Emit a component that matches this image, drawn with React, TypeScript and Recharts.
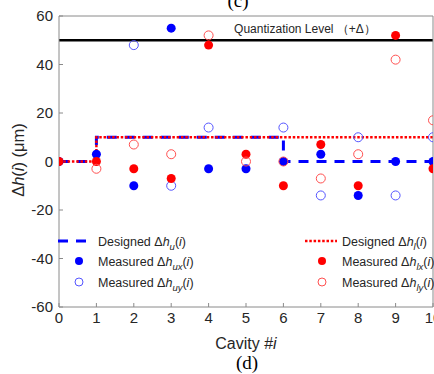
import React from "react";
import { ComposedChart, Legend, Line, ReferenceLine, Scatter, XAxis, YAxis } from "recharts";

const cavities = [0, 1, 2, 3, 4, 5, 6, 7, 8, 9, 10];
const designedU = [0, 10, 10, 10, 10, 10, 0, 0, 0, 0, 0];
const designedL = [0, 10, 10, 10, 10, 10, 10, 10, 10, 10, 10];
const measuredUx = [0, 3, -10, 55, -3, -3, 0, 3, -14, 0, 0];
const measuredUy = [null, null, 48, -10, 14, null, 14, -14, 10, -14, 10];
const measuredLx = [0, 0, -3, -7, 48, 3, -10, 7, -10, 52, -3];
const measuredLy = [null, -3, 7, 3, 52, 0, 0, -7, 3, 42, 17];
const xTicks = [0, 1, 2, 3, 4, 5, 6, 7, 8, 9, 10];
const yTicks = [-60, -40, -20, 0, 20, 40, 60];
const quantizationLevel = 50;

const BLUE = "#0000ff";
const RED = "#ff0000";
const BLUE_OPEN = "#5555ff";
const RED_OPEN = "#ff5050";
const AXIS = "#8a8a8a";
const TEXT = "#262626";
const SANS = "'Liberation Sans', Arial, sans-serif";

const toPoints = (vals: (number | null)[]) =>
  cavities.map((x, i) => ({ x, y: vals[i] })).filter((p) => p.y !== null);

// legend look per series name
const legendInfo: Record<string, { kind: string; color: string; sub: string; word: string; slot: [number, number] }> = {
  du: { kind: "dash", color: BLUE, sub: "u", word: "Designed", slot: [58, 241] },
  ux: { kind: "filled", color: BLUE, sub: "ux", word: "Measured", slot: [58, 261] },
  uy: { kind: "open", color: BLUE_OPEN, sub: "uy", word: "Measured", slot: [58, 282] },
  dl: { kind: "dot", color: RED, sub: "l", word: "Designed", slot: [304, 241] },
  lx: { kind: "filled", color: RED, sub: "lx", word: "Measured", slot: [304, 261] },
  ly: { kind: "open", color: RED_OPEN, sub: "ly", word: "Measured", slot: [304, 282] },
};

function LegendBox({ payload }: any) {
  return (
    <svg width={434} height={374} style={{ position: "absolute", left: 0, top: 0 }}>
      {(payload || []).map((item: any) => {
        const info = legendInfo[item.value];
        if (!info) return null;
        const [x, y] = info.slot;
        const tx = x < 200 ? 98 : 342;
        let symbol;
        if (info.kind === "dash") {
          symbol = <line x1={x} x2={x + 28} y1={y} y2={y} stroke={info.color} strokeWidth={3} strokeDasharray="10 8" />;
        } else if (info.kind === "dot") {
          symbol = <line x1={x + 1} x2={x + 33} y1={y} y2={y} stroke={info.color} strokeWidth={2.5} strokeDasharray="2.5 1.8" />;
        } else if (info.kind === "filled") {
          symbol = <circle cx={x + (x < 200 ? 21 : 18)} cy={y} r={4} fill={info.color} />;
        } else {
          symbol = <circle cx={x + (x < 200 ? 21 : 18)} cy={y} r={4} fill="none" stroke={info.color} strokeWidth={1} />;
        }
        return (
          <g key={item.value}>
            {symbol}
            <text x={tx} y={y + 4.5} fontSize={12.5} fontFamily={SANS} fill={TEXT}>
              {info.word} Δ<tspan fontStyle="italic">h</tspan>
              <tspan fontStyle="italic" fontSize={9.5} dy={4}>{info.sub}</tspan>
              <tspan dy={-4}>(</tspan>
              <tspan fontStyle="italic">i</tspan>)
            </text>
          </g>
        );
      })}
    </svg>
  );
}

const dotShape = (color: string, filled: boolean) => (p: any) =>
  filled ? (
    <circle cx={p.cx} cy={p.cy} r={4.5} fill={color} />
  ) : (
    <circle cx={p.cx} cy={p.cy} r={4.5} fill="none" stroke={color} strokeWidth={1} />
  );

export default function App() {
  const tickStyle = { fill: TEXT, fontSize: 15, fontFamily: SANS };
  return (
    <div style={{ position: "absolute", left: 0, top: 0, width: 434, height: 374, background: "#fff" }}>
      <ComposedChart width={434} height={374} margin={{ top: 15, right: 0, bottom: 37, left: 0 }}>
        <XAxis
          type="number"
          dataKey="x"
          domain={[0, 10]}
          ticks={xTicks}
          interval={0}
          height={30}
          stroke={AXIS}
          tickSize={-4}
          tickMargin={9}
          tick={tickStyle}
          allowDataOverflow
        />
        <XAxis
          xAxisId="top"
          orientation="top"
          type="number"
          dataKey="x"
          domain={[0, 10]}
          ticks={xTicks}
          interval={0}
          height={1}
          stroke={AXIS}
          tickSize={-4}
          tick={false}
        />
        <YAxis
          type="number"
          domain={[-60, 60]}
          ticks={yTicks}
          interval={0}
          width={59}
          stroke={AXIS}
          tickSize={-4}
          tickMargin={10}
          tick={tickStyle}
          allowDataOverflow
        />
        <YAxis
          yAxisId="right"
          orientation="right"
          type="number"
          domain={[-60, 60]}
          ticks={yTicks}
          interval={0}
          width={1}
          stroke={AXIS}
          tickSize={-4}
          tick={false}
        />
        <ReferenceLine y={quantizationLevel} stroke="#000" strokeWidth={2.5} />
        <Scatter name="ux" data={toPoints(measuredUx)} dataKey="y" fill={BLUE} shape={dotShape(BLUE, true)} isAnimationActive={false} />
        <Scatter name="uy" data={toPoints(measuredUy)} dataKey="y" fill={BLUE_OPEN} shape={dotShape(BLUE_OPEN, false)} isAnimationActive={false} />
        <Line
          name="du"
          data={toPoints(designedU)}
          dataKey="y"
          type="stepAfter"
          stroke={BLUE}
          strokeWidth={3}
          strokeDasharray="10 8"
          dot={false}
          isAnimationActive={false}
        />
        <Line
          name="dl"
          data={toPoints(designedL)}
          dataKey="y"
          type="stepAfter"
          stroke={RED}
          strokeWidth={2.5}
          strokeDasharray="2.5 1.8"
          dot={false}
          isAnimationActive={false}
        />
        <Scatter name="lx" data={toPoints(measuredLx)} dataKey="y" fill={RED} shape={dotShape(RED, true)} isAnimationActive={false} />
        <Scatter name="ly" data={toPoints(measuredLy)} dataKey="y" fill={RED_OPEN} shape={dotShape(RED_OPEN, false)} isAnimationActive={false} />
        <Legend
          layout="horizontal"
          verticalAlign="middle"
          align="center"
          content={<LegendBox />}
          wrapperStyle={{ left: 0, top: 0, width: 434, height: 374, pointerEvents: "none" }}
        />
        <text x={305} y={33} textAnchor="middle" fontSize={12} fontFamily={SANS} fill={TEXT}>
          Quantization Level （+Δ）
        </text>
        <text transform="translate(24,160) rotate(-90)" textAnchor="middle" fontSize={16.5} fontFamily={SANS} fill={TEXT}>
          Δ<tspan fontStyle="italic">h</tspan>(<tspan fontStyle="italic">i</tspan>) (μm)
        </text>
        <text x={246} y={349} textAnchor="middle" fontSize={16} fontFamily={SANS} fill={TEXT}>
          Cavity #<tspan fontStyle="italic">i</tspan>
        </text>
        <text x={247} y={369} textAnchor="middle" fontSize={19} fontFamily="'Liberation Serif', 'Times New Roman', serif" fill="#000">
          (d)
        </text>
        <text x={238} y={7} textAnchor="middle" fontSize={19} fontFamily="'Liberation Serif', 'Times New Roman', serif" fill="#000">
          (c)
        </text>
      </ComposedChart>
    </div>
  );
}
